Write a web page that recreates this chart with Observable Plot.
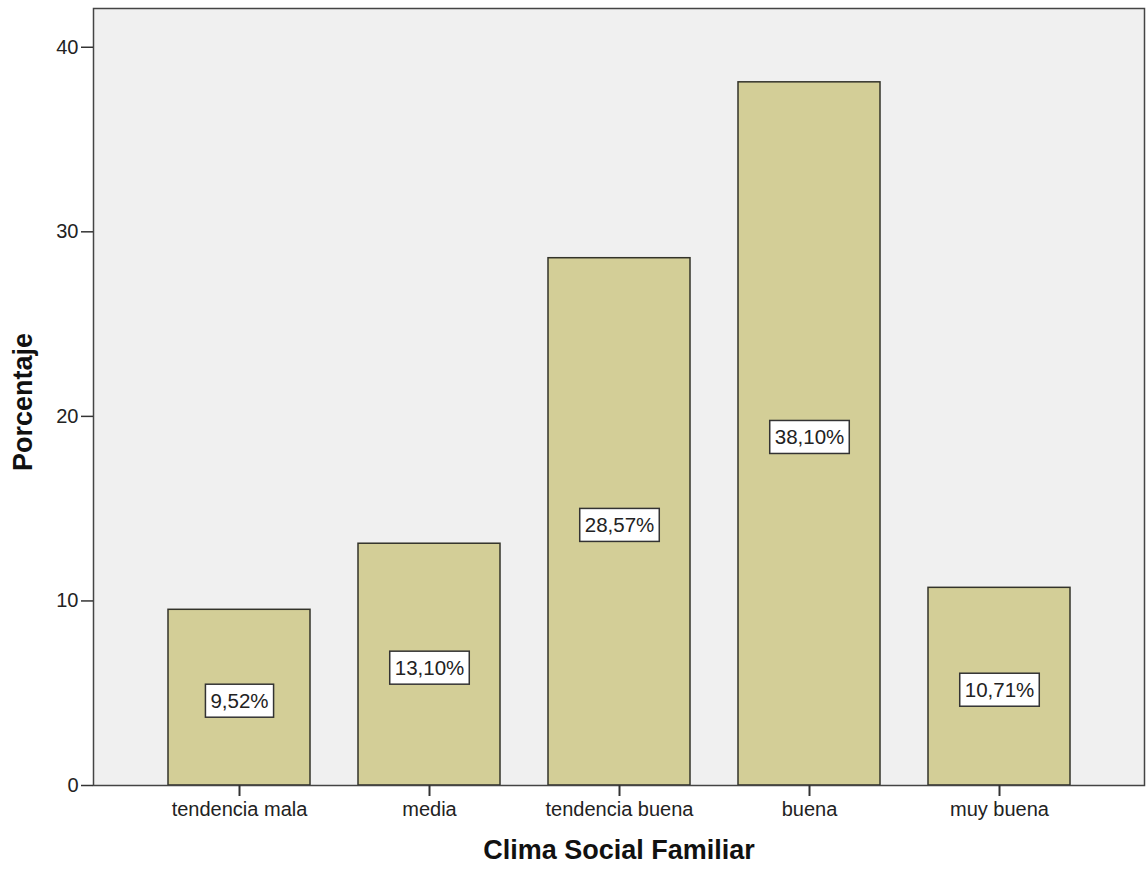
<!DOCTYPE html>
<html>
<head>
<meta charset="utf-8">
<script src="https://cdn.jsdelivr.net/npm/d3@7"></script>
<script src="https://cdn.jsdelivr.net/npm/@observablehq/plot@0.6"></script>
<style>
  html, body { margin: 0; padding: 0; background: #ffffff; }
  #chart svg { display: block; }
</style>
</head>
<body>
<div id="chart"></div>
<script>
const categories = ["tendencia mala", "media", "tendencia buena", "buena", "muy buena"];
const percentages = [9.52, 13.10, 28.57, 38.10, 10.71];
const valueLabels = ["9,52%", "13,10%", "28,57%", "38,10%", "10,71%"];
const yTicks = [0, 10, 20, 30, 40];

const data = categories.map((c, i) => ({cat: c, value: percentages[i], label: valueLabels[i]}));
const FONT = "Liberation Sans, Arial, sans-serif";

const chart = Plot.plot({
  width: 1147,
  height: 875,
  marginLeft: 93,
  marginRight: 3,
  marginTop: 8,
  marginBottom: 90,
  style: {fontFamily: FONT, background: "#ffffff", color: "#222"},
  x: {domain: categories, paddingInner: 0.253, paddingOuter: 0.39, label: null},
  y: {domain: [0, 42.1], label: null},
  marks: [
    Plot.frame({fill: "#f0f0f0", stroke: "none"}),
    Plot.barY(data, {x: "cat", y: "value", fill: "#d3ce97", stroke: "#33332a", strokeWidth: 1.5}),
    Plot.frame({stroke: "#444", strokeWidth: 1.5}),
    Plot.axisY({ticks: yTicks, tickSize: 12, tickPadding: 3, fontSize: 20, tickFormat: d => String(d), stroke: "#333", strokeWidth: 1.5, label: null}),
    Plot.axisX({tickSize: 11, tickPadding: 5, fontSize: 20, stroke: "#333", strokeWidth: 2, label: null}),
    Plot.text(data, {x: "cat", y: d => d.value / 2, text: "label", dy: 4, fontSize: 20.5, fill: "#222", className: "vlabel"}),
    Plot.text(["Porcentaje"], {frameAnchor: "left", textAnchor: "middle", dx: -70, dy: 5, rotate: -90, fontSize: 27, fontWeight: "bold", fill: "#111"}),
    Plot.text(["Clima Social Familiar"], {frameAnchor: "bottom", dy: 73, fontSize: 27, fontWeight: "bold", fill: "#111"})
  ]
});

document.getElementById("chart").appendChild(chart);

// white boxes behind value labels
const svgNS = "http://www.w3.org/2000/svg";
chart.querySelectorAll("g.vlabel text").forEach(t => {
  const b = t.getBBox();
  const r = document.createElementNS(svgNS, "rect");
  const padX = 5, padY = 6;
  r.setAttribute("x", b.x - padX);
  r.setAttribute("y", b.y - padY + 1);
  r.setAttribute("width", b.width + 2 * padX);
  r.setAttribute("height", b.height + 2 * padY - 2);
  r.setAttribute("fill", "#ffffff");
  r.setAttribute("stroke", "#333");
  r.setAttribute("stroke-width", "1.5");
  const tr = t.getAttribute("transform");
  if (tr) r.setAttribute("transform", tr);
  t.parentNode.insertBefore(r, t);
});
</script>
</body>
</html>
